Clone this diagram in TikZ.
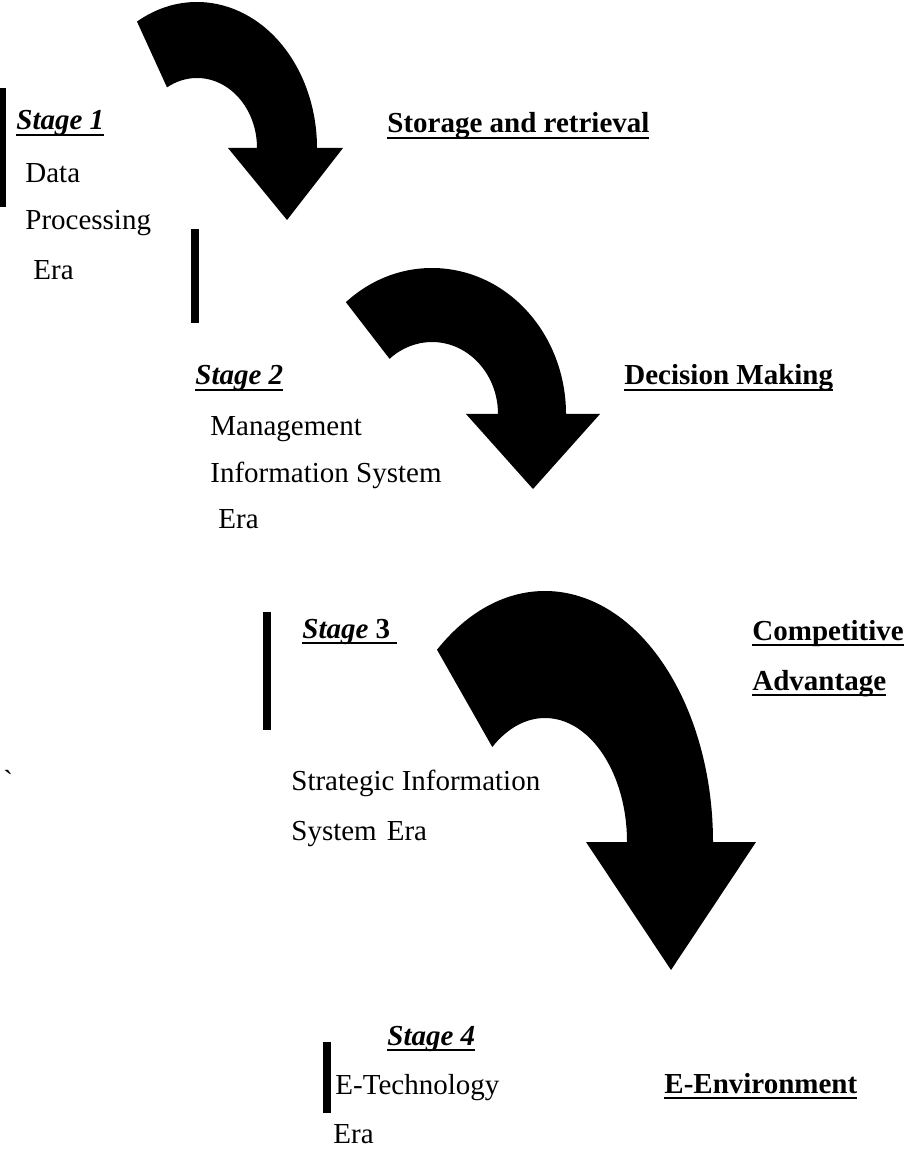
\documentclass[tikz,border=0pt]{standalone}
\usepackage{fontspec}
\setmainfont{Liberation Serif}

\newsavebox\linebox
\newcommand\stageline[1]{\sbox\linebox{#1}\rlap{\rule[-3pt]{\wd\linebox}{1.1pt}}\usebox\linebox}

\tikzset{
	every node/.style={inner sep=0pt, anchor=base west, font=\fontsize{14.5}{17}\selectfont},
	heading/.style={font=\fontsize{14.5}{17}\selectfont\bfseries},
	bar/.style={fill=black},
	bigarrow/.style={fill=black},
}

\begin{document}
\begin{tikzpicture}[x=0.5pt, y=-0.5pt]
	\useasboundingbox (0,0) rectangle (905,1149);

	\coordinate (bendone) at (197,148);
	\coordinate (bendtwo) at (432,414);
	\coordinate (bendthree) at (545,842);

	\fill[bigarrow] (bendone) ++(240:120 and 146) arc[start angle=240, end angle=360, x radius=120, y radius=146] -- ++(26,0) -- ++(-56,72) -- ++(-59,-72) -- ++(29,0) arc[start angle=360, end angle=240, x radius=60, y radius=70] -- cycle;
	\fill[bigarrow] (bendtwo) ++(230:134 and 146) arc[start angle=230, end angle=360, x radius=134, y radius=146] -- ++(34,0) -- ++(-67,75) -- ++(-67,-75) -- ++(32,0) arc[start angle=360, end angle=230, x radius=66, y radius=72] -- cycle;
	\fill[bigarrow] (bendthree) ++(230:168 and 251) arc[start angle=230, end angle=360, x radius=168, y radius=251] -- ++(43,0) -- ++(-85,128) -- ++(-85,-128) -- ++(41,0) arc[start angle=360, end angle=230, x radius=82, y radius=124] -- cycle;

	\fill[bar] (0,88) rectangle (6,207);
	\fill[bar] (191,229) rectangle (199,323);
	\fill[bar] (263,612) rectangle (271,730);
	\fill[bar] (323,1042) rectangle (331,1113);

	\node (stageone) at (16,130) {\stageline{\textbf{\textit{Stage 1}}}};
	\node (dataone) at (25,183) {Data};
	\node (procone) at (25,230) {Processing};
	\node (eraone) at (33,280) {Era};
	\node[heading] (storage) at (387,133) {\stageline{Storage and retrieval}};

	\node (stagetwo) at (195,385) {\stageline{\textbf{\textit{Stage 2}}}};
	\node (mgmt) at (210,436) {Management};
	\node (infosys) at (210,482) {Information System};
	\node (eratwo) at (218,528) {Era};
	\node[heading] (decision) at (624,385) {\stageline{Decision Making}};

	\node (stagethree) at (302,638) {\stageline{\textbf{\textit{Stage} 3\ }}};
	\node[heading] (competitive) at (752,640) {\stageline{Competitive}};
	\node[heading] (advantage) at (752,690) {\stageline{Advantage}};
	\node (tick) at (3,790) {\textasciigrave};
	\node (strategic) at (291,790) {Strategic Information};
	\node (systemera) at (291,840) {System\hspace{5pt}Era};

	\node (stagefour) at (387,1045) {\stageline{\textbf{\textit{Stage 4}}}};
	\node (etech) at (335,1094) {E-Technology};
	\node (erafour) at (333,1143) {Era};
	\node[heading] (eenv) at (664,1093) {\stageline{E-Environment}};
\end{tikzpicture}
\end{document}
